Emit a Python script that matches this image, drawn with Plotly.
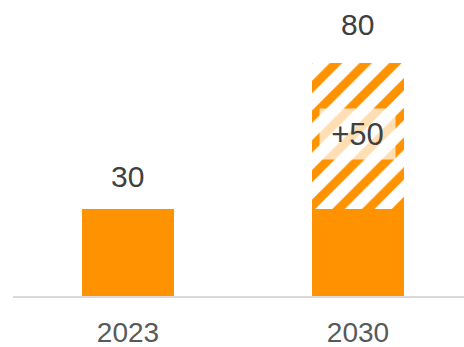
import plotly.graph_objects as go

categories = ["2023", "2030"]
base_values = [30, 30]
added_values = [0, 50]
totals = [30, 80]
added_labels = ["", "+50"]

ORANGE = "#FF9200"
FONT = "Liberation Sans, Arial, sans-serif"

fig = go.Figure()
fig.add_trace(go.Bar(
    x=categories, y=base_values,
    marker=dict(color=ORANGE, line=dict(width=0)),
    hoverinfo="skip",
))
fig.add_trace(go.Bar(
    x=categories, y=added_values,
    marker=dict(color="white", line=dict(width=0),
                pattern=dict(shape="/", fgcolor=ORANGE, bgcolor="white",
                             size=21, solidity=0.42, fillmode="replace")),
    hoverinfo="skip",
))

shifts = [32, 39]
for i, (tot, sh) in enumerate(zip(totals, shifts)):
    fig.add_annotation(x=i, y=tot, xref="x", yref="y", text=str(tot), showarrow=False,
                       yanchor="middle", yshift=sh,
                       font=dict(family=FONT, size=30, color="#404040"))

for i, (b, a, lab) in enumerate(zip(base_values, added_values, added_labels)):
    if lab:
        fig.add_annotation(x=i, y=b + a / 2, xref="x", yref="y", text=lab, showarrow=False,
                           yanchor="middle", yshift=2, width=73, height=48, borderpad=1,
                           bgcolor="rgba(255,255,255,0.7)",
                           font=dict(family=FONT, size=31, color="#404040"))

fig.update_layout(
    barmode="stack",
    bargap=0.6,
    showlegend=False,
    width=464, height=347,
    margin=dict(l=13, r=0, t=0, b=51, autoexpand=False),
    plot_bgcolor="white",
    paper_bgcolor="white",
    xaxis=dict(type="category", range=[-0.5, 1.461], showline=True,
               linecolor="#D9D9D9", linewidth=2, showgrid=False,
               automargin=False,
               ticks="", ticklabelstandoff=10,
               tickfont=dict(family=FONT, size=28, color="#595959")),
    yaxis=dict(range=[0, 101.7], visible=False, showgrid=False, automargin=False),
)

fig.write_html("out.html", post_script="document.body.style.margin='0';",
               config={"displayModeBar": False})
